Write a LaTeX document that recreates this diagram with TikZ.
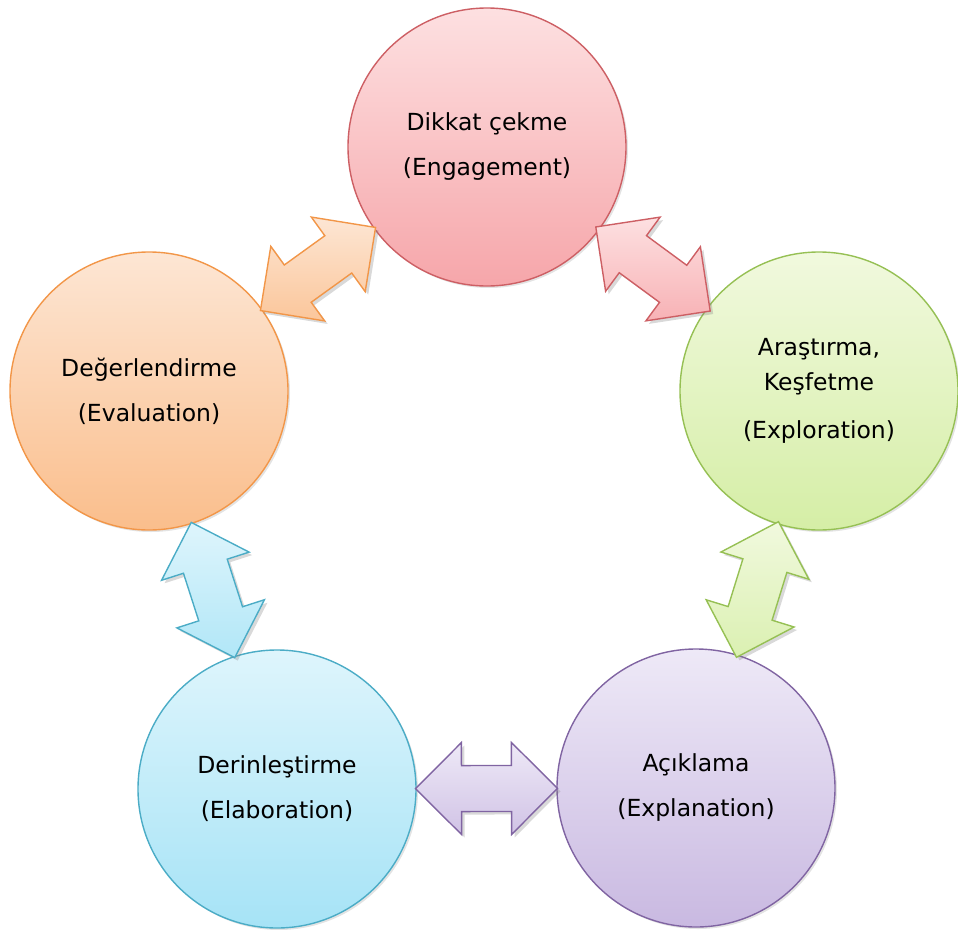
\documentclass[tikz,border=0pt]{standalone}
\usepackage{fontspec}
\setmainfont{DejaVu Sans}
\usetikzlibrary{calc,shadows}

% phase palettes: light top, deeper bottom, outline
\definecolor{redtop}{RGB}{253,224,225}
\definecolor{redbot}{RGB}{246,166,170}
\definecolor{redline}{RGB}{205,95,100}
\definecolor{greentop}{RGB}{241,249,222}
\definecolor{greenbot}{RGB}{213,238,166}
\definecolor{greenline}{RGB}{150,192,84}
\definecolor{purpletop}{RGB}{238,233,247}
\definecolor{purplebot}{RGB}{201,185,225}
\definecolor{purpleline}{RGB}{128,100,162}
\definecolor{bluetop}{RGB}{222,245,252}
\definecolor{bluebot}{RGB}{166,227,246}
\definecolor{blueline}{RGB}{75,172,198}
\definecolor{orangetop}{RGB}{253,230,212}
\definecolor{orangebot}{RGB}{250,190,140}
\definecolor{orangeline}{RGB}{242,150,72}

\tikzset{
  phase/.style={circle, minimum size=278pt, inner sep=0pt, align=center,
    draw=#1line, line width=1.4pt, top color=#1top, bottom color=#1bot,
    font=\fontsize{23.5}{45}\selectfont,
    drop shadow={shadow xshift=2pt, shadow yshift=-2pt, opacity=0.22}},
  link/.style={draw=#1line, line width=1.4pt, line join=miter,
    top color=#1top, bottom color=#1bot!80!#1top,
    drop shadow={shadow xshift=3pt, shadow yshift=-3pt, opacity=0.3}},
}

% double-headed block arrow between the centres of two phase circles
\newcommand\cyclearrow[3]{%
  \coordinate (m) at ($(#1)!0.5!(#2)$);
  \coordinate (p1) at ($(m)!25pt!(#1)$);
  \coordinate (p2) at ($(m)!25pt!(#2)$);
  \path[link=#3] ($(m)!71pt!(#2)$)
    -- ($(p2)!46pt!90:(#2)$) -- ($(p2)!23pt!90:(#2)$)
    -- ($(p1)!23pt!-90:(#1)$) -- ($(p1)!46pt!-90:(#1)$)
    -- ($(m)!71pt!(#1)$)
    -- ($(p1)!46pt!90:(#1)$) -- ($(p1)!23pt!90:(#1)$)
    -- ($(p2)!23pt!-90:(#2)$) -- ($(p2)!46pt!-90:(#2)$)
    -- cycle;
}

\begin{document}
\begin{tikzpicture}[x=1pt, y=-1pt]
  \useasboundingbox (0,0) rectangle (958,929);

  \node[phase=red]    (eng) at (487,147) {Dikkat çekme\\(Engagement)};
  \node[phase=green]  (exr) at (819,391) {Araştırma,\\[-10pt]Keşfetme\\[3pt](Exploration)};
  \node[phase=purple] (exn) at (696,788) {Açıklama\\(Explanation)};
  \node[phase=blue]   (ela) at (277,789) {Derinleştirme\\(Elaboration)};
  \node[phase=orange] (eva) at (149,391) {Değerlendirme\\(Evaluation)};

  \cyclearrow{eva}{eng}{orange}
  \cyclearrow{eng}{exr}{red}
  \cyclearrow{exr}{exn}{green}
  \cyclearrow{ela}{exn}{purple}
  \cyclearrow{eva}{ela}{blue}
\end{tikzpicture}
\end{document}
